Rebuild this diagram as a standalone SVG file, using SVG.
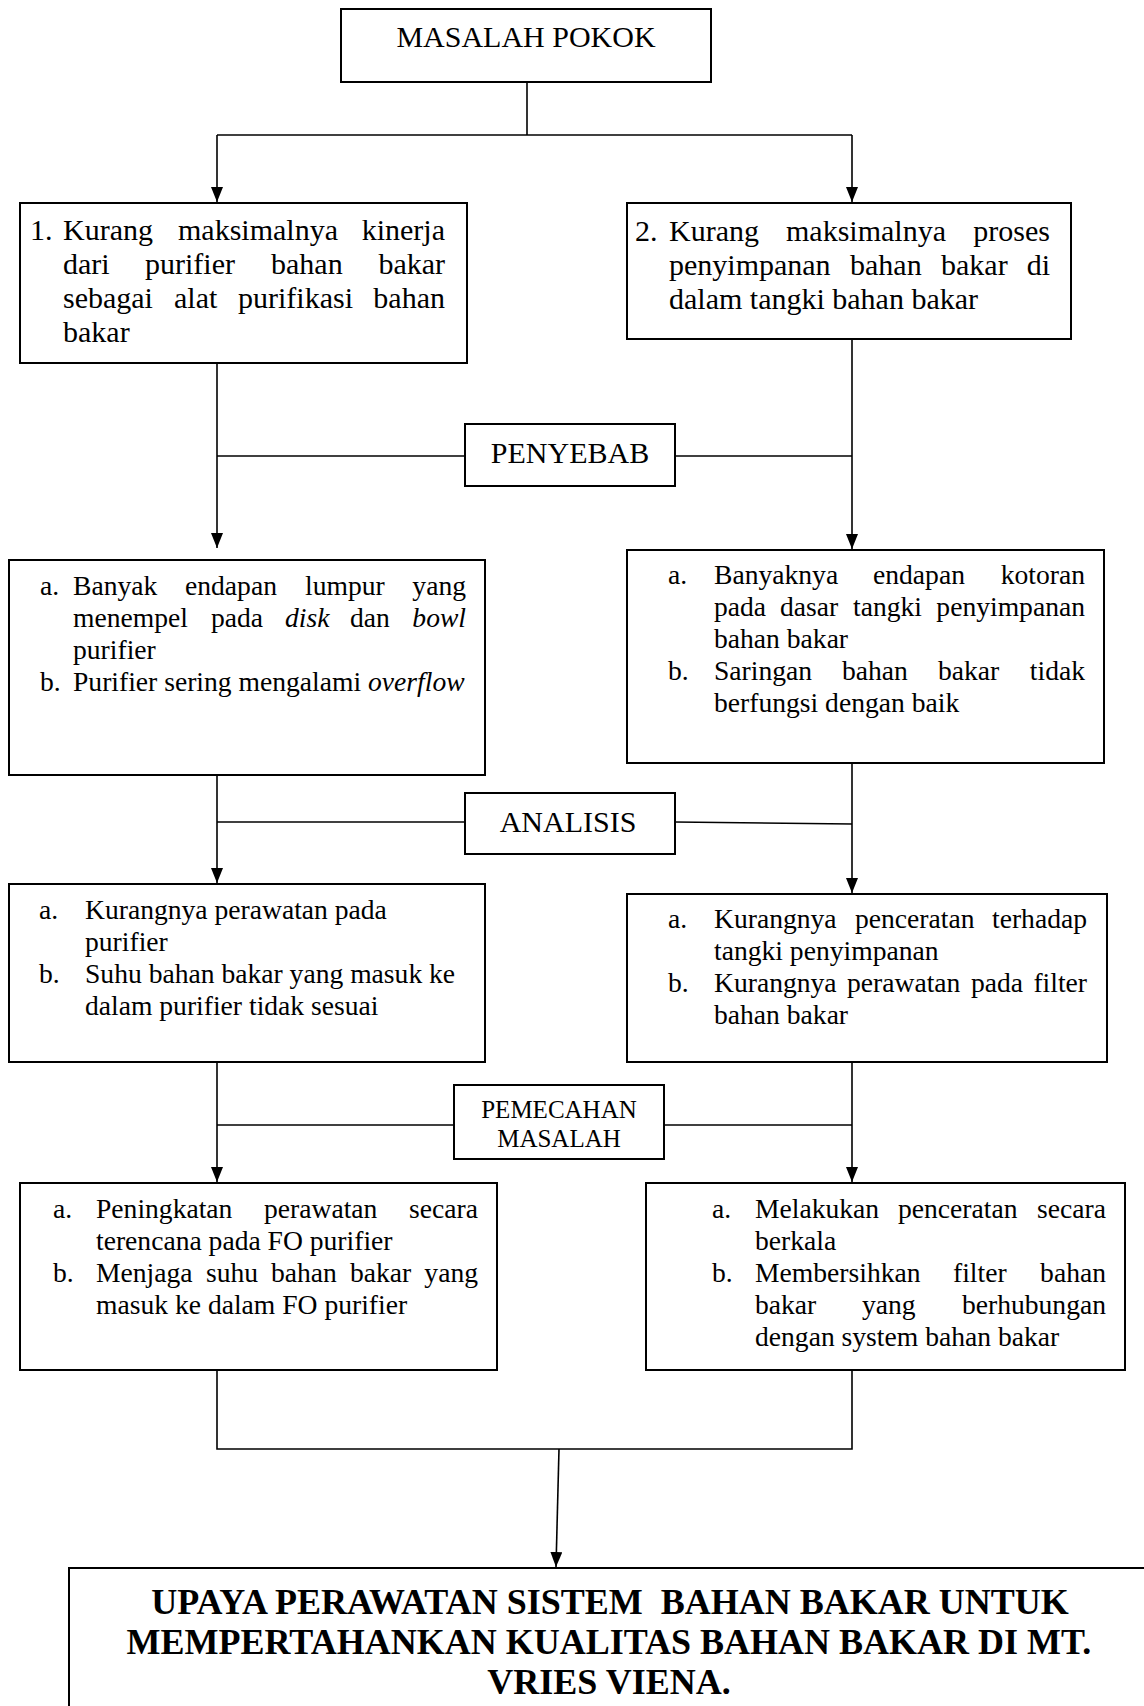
<svg xmlns="http://www.w3.org/2000/svg" width="1144" height="1706" viewBox="0 0 1144 1706">
<style>
.box{fill:#fff;stroke:#000;stroke-width:2}
.conn{stroke:#000;stroke-width:1.6;fill:none}
text{font-family:"Liberation Serif","Times New Roman",serif;fill:#000}
.t30{font-size:30px}
.t27{font-size:27.6px}
.t25{font-size:25px}
.end{text-anchor:end}
.mid{text-anchor:middle}
.it{font-style:italic}
.bold{font-weight:bold;font-size:36px}
</style>
<defs>
<marker id="arr" markerUnits="userSpaceOnUse" markerWidth="16" markerHeight="12" refX="15" refY="6" orient="auto">
<path d="M0,0 L15,6 L0,12 z" fill="#000"/>
</marker>
</defs>

<g id="connectors">
<path class="conn" d="M527,82 V135"/>
<path class="conn" d="M217,135 H852"/>
<path class="conn" d="M217,135 V202" marker-end="url(#arr)"/>
<path class="conn" d="M852,135 V202" marker-end="url(#arr)"/>
<path class="conn" d="M217,363 V548" marker-end="url(#arr)"/>
<path class="conn" d="M852,339 V549" marker-end="url(#arr)"/>
<path class="conn" d="M217,456 H465"/>
<path class="conn" d="M675,456 H852"/>
<path class="conn" d="M217,763 V883" marker-end="url(#arr)"/>
<path class="conn" d="M852,763 V893" marker-end="url(#arr)"/>
<path class="conn" d="M217,822 H465"/>
<path class="conn" d="M675,822 L852,824"/>
<path class="conn" d="M217,1062 V1182" marker-end="url(#arr)"/>
<path class="conn" d="M852,1062 V1182" marker-end="url(#arr)"/>
<path class="conn" d="M217,1125 H454"/>
<path class="conn" d="M664,1125 H852"/>
<path class="conn" d="M217,1370 V1449 H852 V1370"/>
<path class="conn" d="M559,1449 L556,1567" marker-end="url(#arr)"/>
</g>

<g id="masalah-pokok">
<rect class="box" x="341" y="9" width="370" height="73"/>
<text class="t30 mid" x="526" y="47">MASALAH POKOK</text>
</g>

<g id="node-1">
<rect class="box" x="20" y="203" width="447" height="160"/>
<g class="t30">
<text x="30" y="240">1.</text>
<text x="63" y="240">Kurang</text>
<text x="178" y="240">maksimalnya</text>
<text class="end" x="445" y="240">kinerja</text>
<text x="63" y="274">dari</text>
<text x="145" y="274">purifier</text>
<text x="271" y="274">bahan</text>
<text class="end" x="445" y="274">bakar</text>
<text x="63" y="308">sebagai</text>
<text x="174" y="308">alat</text>
<text x="238" y="308">purifikasi</text>
<text class="end" x="445" y="308">bahan</text>
<text x="63" y="342">bakar</text>
</g>
</g>

<g id="node-2">
<rect class="box" x="627" y="203" width="444" height="136"/>
<g class="t30">
<text x="635" y="241">2.</text>
<text x="669" y="241">Kurang</text>
<text x="786" y="241">maksimalnya</text>
<text class="end" x="1050" y="241">proses</text>
<text x="669" y="275">penyimpanan</text>
<text x="850" y="275">bahan</text>
<text x="941" y="275">bakar</text>
<text class="end" x="1050" y="275">di</text>
<text x="669" y="309">dalam tangki bahan bakar</text>
</g>
</g>

<g id="penyebab">
<rect class="box" x="465" y="424" width="210" height="62"/>
<text class="t30 mid" x="570" y="463">PENYEBAB</text>
</g>

<g id="node-3">
<rect class="box" x="9" y="560" width="476" height="215"/>
<g class="t27">
<text x="40" y="595">a.</text>
<text x="73" y="595">Banyak</text>
<text x="185" y="595">endapan</text>
<text x="305" y="595">lumpur</text>
<text class="end" x="466" y="595">yang</text>
<text x="73" y="627">menempel</text>
<text x="211" y="627">pada</text>
<text class="it" x="285" y="627">disk</text>
<text x="350" y="627">dan</text>
<text class="it end" x="466" y="627">bowl</text>
<text x="73" y="659">purifier</text>
<text x="40" y="691">b.</text>
<text x="73" y="691">Purifier sering mengalami <tspan class="it">overflow</tspan></text>
</g>
</g>

<g id="node-4">
<rect class="box" x="627" y="550" width="477" height="213"/>
<g class="t27">
<text x="668" y="584">a.</text>
<text x="714" y="584">Banyaknya</text>
<text x="873" y="584">endapan</text>
<text class="end" x="1085" y="584">kotoran</text>
<text x="714" y="616">pada</text>
<text x="780" y="616">dasar</text>
<text x="853" y="616">tangki</text>
<text class="end" x="1085" y="616">penyimpanan</text>
<text x="714" y="648">bahan bakar</text>
<text x="668" y="680">b.</text>
<text x="714" y="680">Saringan</text>
<text x="842" y="680">bahan</text>
<text x="938" y="680">bakar</text>
<text class="end" x="1085" y="680">tidak</text>
<text x="714" y="712">berfungsi dengan baik</text>
</g>
</g>

<g id="analisis">
<rect class="box" x="465" y="793" width="210" height="61"/>
<text class="t30 mid" x="568" y="832">ANALISIS</text>
</g>

<g id="node-5">
<rect class="box" x="9" y="884" width="476" height="178"/>
<g class="t27">
<text x="39" y="919">a.</text>
<text x="85" y="919">Kurangnya perawatan pada</text>
<text x="85" y="951">purifier</text>
<text x="39" y="983">b.</text>
<text x="85" y="983">Suhu bahan bakar yang masuk ke</text>
<text x="85" y="1015">dalam purifier tidak sesuai</text>
</g>
</g>

<g id="node-6">
<rect class="box" x="627" y="894" width="480" height="168"/>
<g class="t27">
<text x="668" y="928">a.</text>
<text x="714" y="928">Kurangnya</text>
<text x="855" y="928">penceratan</text>
<text class="end" x="1087" y="928">terhadap</text>
<text x="714" y="960">tangki penyimpanan</text>
<text x="668" y="992">b.</text>
<text x="714" y="992">Kurangnya</text>
<text x="847" y="992">perawatan</text>
<text x="971" y="992">pada</text>
<text class="end" x="1087" y="992">filter</text>
<text x="714" y="1024">bahan bakar</text>
</g>
</g>

<g id="pemecahan-masalah">
<rect class="box" x="454" y="1085" width="210" height="74"/>
<text class="t25 mid" x="559" y="1118">PEMECAHAN</text>
<text class="t25 mid" x="559" y="1147">MASALAH</text>
</g>

<g id="node-7">
<rect class="box" x="20" y="1183" width="477" height="187"/>
<g class="t27">
<text x="53" y="1218">a.</text>
<text x="96" y="1218">Peningkatan</text>
<text x="264" y="1218">perawatan</text>
<text class="end" x="478" y="1218">secara</text>
<text x="96" y="1250">terencana pada FO purifier</text>
<text x="53" y="1282">b.</text>
<text x="96" y="1282">Menjaga</text>
<text x="206" y="1282">suhu</text>
<text x="271" y="1282">bahan</text>
<text x="350" y="1282">bakar</text>
<text class="end" x="478" y="1282">yang</text>
<text x="96" y="1314">masuk ke dalam FO purifier</text>
</g>
</g>

<g id="node-8">
<rect class="box" x="646" y="1183" width="479" height="187"/>
<g class="t27">
<text x="712" y="1218">a.</text>
<text x="755" y="1218">Melakukan</text>
<text x="898" y="1218">penceratan</text>
<text class="end" x="1106" y="1218">secara</text>
<text x="755" y="1250">berkala</text>
<text x="712" y="1282">b.</text>
<text x="755" y="1282">Membersihkan</text>
<text x="953" y="1282">filter</text>
<text class="end" x="1106" y="1282">bahan</text>
<text x="755" y="1314">bakar</text>
<text x="862" y="1314">yang</text>
<text class="end" x="1106" y="1314">berhubungan</text>
<text x="755" y="1346">dengan system bahan bakar</text>
</g>
</g>

<g id="result">
<rect class="box" x="69" y="1568" width="1100" height="160"/>
<text class="bold mid" x="610" y="1614" xml:space="preserve">UPAYA PERAWATAN SISTEM  BAHAN BAKAR UNTUK</text>
<text class="bold mid" x="609" y="1654">MEMPERTAHANKAN KUALITAS BAHAN BAKAR DI MT.</text>
<text class="bold mid" x="609" y="1694">VRIES VIENA.</text>
</g>
</svg>
